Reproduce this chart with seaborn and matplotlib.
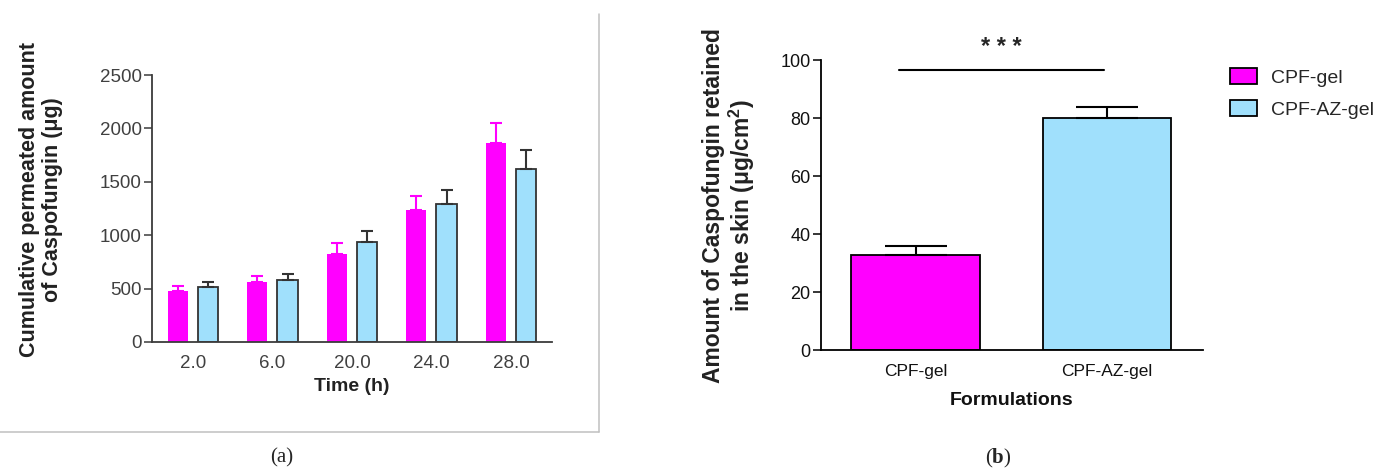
import matplotlib
matplotlib.use("Agg")
import pandas as pd
import seaborn as sns
import matplotlib.pyplot as plt
from matplotlib.patches import Patch
from matplotlib.lines import Line2D

### data
times = ["2.0", "6.0", "20.0", "24.0", "28.0"]
cpf_gel_mean = [476, 564, 827, 1237, 1864]
cpf_gel_err = [50, 50, 100, 126, 185]
cpf_az_gel_mean = [514, 576, 940, 1291, 1623]
cpf_az_gel_err = [50, 63, 100, 131, 175]

formulations = ["CPF-gel", "CPF-AZ-gel"]
retained_mean = [33.1, 80.0]
retained_err = [2.8, 4.0]

pink = "#FF00FF"
blue = "#A0E0FC"

sns.set_style("white")
plt.rcParams["font.family"] = ["Liberation Sans", "DejaVu Sans"]
plt.rcParams["mathtext.fontset"] = "custom"
plt.rcParams["mathtext.rm"] = "Liberation Sans"
plt.rcParams["mathtext.sf"] = "Liberation Sans:bold"
plt.rcParams["mathtext.bf"] = "Liberation Serif:bold"

W, H = 1382, 473
fig = plt.figure(figsize=(W / 100, H / 100), dpi=100)

def px_axes(left, top, right, bottom):
    return fig.add_axes([left / W, 1 - bottom / H, (right - left) / W, (bottom - top) / H])

### panel (a)
ax_a = px_axes(152, 75, 552, 342)
df_a = pd.DataFrame({
    "time": times * 2,
    "formulation": ["CPF-gel"] * len(times) + ["CPF-AZ-gel"] * len(times),
    "value": cpf_gel_mean + cpf_az_gel_mean,
})
sns.barplot(data=df_a, x="time", y="value", hue="formulation", order=times,
            hue_order=formulations, palette=[pink, blue], saturation=1, width=0.76,
            gap=0.33, errorbar=None, legend=False, ax=ax_a)

for cont, errs, ecol, edge in zip(ax_a.containers, [cpf_gel_err, cpf_az_gel_err],
                                  [pink, "#333333"], ["none", "#333333"]):
    xs, ys = [], []
    for p in cont.patches:
        p.set_edgecolor(edge)
        p.set_linewidth(1.3 if edge != "none" else 0)
        xs.append(p.get_x() + p.get_width() / 2)
        ys.append(p.get_height())
    ax_a.errorbar(xs, ys, yerr=[[0] * len(errs), errs], fmt="none", ecolor=ecol,
                  elinewidth=1.5, capsize=4, capthick=1.5, zorder=1)

ax_a.set_xlim(-0.514, 4.516)
ax_a.set_ylim(0, 2500)
ax_a.set_yticks([0, 500, 1000, 1500, 2000, 2500])
sns.despine(ax=ax_a)
for s in ["left", "bottom"]:
    ax_a.spines[s].set_color("#3c3c3c")
    ax_a.spines[s].set_linewidth(1.3)
ax_a.tick_params(axis="y", direction="out", length=6, width=1.1, color="#3c3c3c",
                 pad=1.5, labelsize=13.5, labelcolor="#404040", left=True)
ax_a.tick_params(axis="x", length=0, pad=9, labelsize=13.5, labelcolor="#404040")
ax_a.set_xlabel("Time (h)", fontsize=14, fontweight="bold", color="#222222", va="center")
ax_a.xaxis.set_label_coords(0.5, -0.165)
ax_a.set_ylabel("Cumulative permeated amount\nof Caspofungin (μg)", fontsize=15.5,
                fontweight="bold", color="#222222", va="center", ha="center",
                linespacing=1.1)
ax_a.yaxis.set_label_coords(-0.2775, 0.532)

### panel (b)
ax_b = px_axes(821, 60.5, 1202.6, 350.5)
sns.barplot(x=formulations, y=retained_mean, hue=formulations, palette=[pink, blue],
            saturation=1, width=0.67, errorbar=None, legend=False, edgecolor="black",
            linewidth=1.3, ax=ax_b)
for cont, err in zip(ax_b.containers, retained_err):
    for p in cont.patches:
        ax_b.errorbar(p.get_x() + p.get_width() / 2, p.get_height(), yerr=[[0], [err]],
                      fmt="none", ecolor="black", elinewidth=1.5, capsize=22,
                      capthick=1.5, zorder=1)

ax_b.set_xlim(-0.494, 1.5)
ax_b.set_ylim(0, 100)
ax_b.set_yticks([0, 20, 40, 60, 80, 100])
sns.despine(ax=ax_b)
for s in ["left", "bottom"]:
    ax_b.spines[s].set_color("black")
    ax_b.spines[s].set_linewidth(1.3)
ax_b.tick_params(axis="y", direction="out", length=6, width=1.1, color="black",
                 pad=1.5, labelsize=13, labelcolor="#111111", left=True)
ax_b.tick_params(axis="x", length=0, pad=10, labelsize=12.5, labelcolor="#111111")
ax_b.set_xlabel("Formulations", fontsize=14, fontweight="bold", color="#111111", va="center")
ax_b.xaxis.set_label_coords(0.5, -0.171)
ax_b.set_ylabel("Amount of Caspofungin retained\nin the skin (μg/cm$^{\\mathsf{2}}$)",
                fontsize=16.5, fontweight="bold", color="#222222", va="center",
                ha="center", linespacing=1.05)
ax_b.yaxis.set_label_coords(-0.2394, 0.5)

# significance bar
ax_b.plot([-0.088, 0.984], [96.8, 96.8], color="black", lw=1.5, clip_on=False)
ax_b.text(0.45, 104.6, "* * *", ha="center", va="center", fontsize=17, fontweight="bold",
          clip_on=False)

handles = [Patch(facecolor=pink, edgecolor="black", linewidth=1.3),
           Patch(facecolor=blue, edgecolor="black", linewidth=1.3)]
fig.legend(handles, formulations, loc="upper left", bbox_to_anchor=(1229.6 / W, 1 - 68 / H),
           frameon=False, borderpad=0, borderaxespad=0, handlelength=1.39,
           handleheight=0.88, handletextpad=0.75, labelspacing=0.7, fontsize=14)

### captions and frame of panel (a)
fig.text(282 / W, 1 - 458 / H, "(a)", ha="center", va="center",
         family="Liberation Serif", fontsize=15)
fig.text(998 / W, 1 - 458 / H, r"($\mathbf{b}$)", ha="center", va="center",
         family="Liberation Serif", fontsize=15)
fig.add_artist(Line2D([599 / W, 599 / W], [1 - 14 / H, 1 - 432 / H],
                      transform=fig.transFigure, color="#c0c0c0", lw=1.1))
fig.add_artist(Line2D([0, 599 / W], [1 - 432 / H, 1 - 432 / H],
                      transform=fig.transFigure, color="#c0c0c0", lw=1.1))

fig.savefig("out.png", dpi=100)
